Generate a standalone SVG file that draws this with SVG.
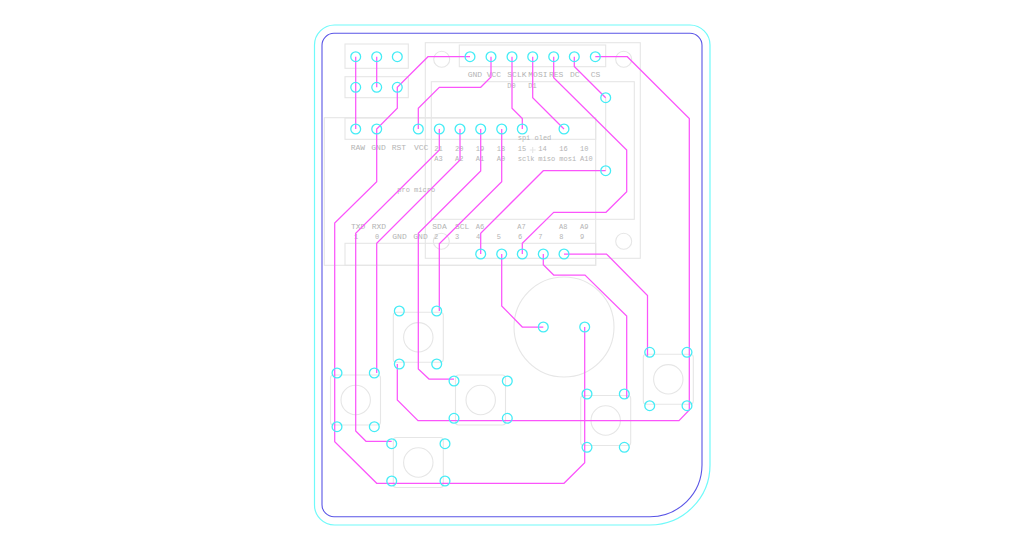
<svg xmlns="http://www.w3.org/2000/svg" width="1024" height="550" viewBox="0 0 1024 550">
<style>
.g{fill:none;stroke:#e6e6e6;stroke-width:1.1}
.t{fill:none;stroke:#fb55fb;stroke-width:1.25;stroke-linejoin:miter}
.p{fill:none;stroke:#45ecf6;stroke-width:1.3}
text{font-family:"Liberation Mono","DejaVu Sans Mono",monospace;font-size:8px;fill:#b4b4b4}
.s{font-size:7px}
</style>
<rect width="1024" height="550" fill="#fff"/>
<g id="outline">
<path d="M334.5 25H690A20 20 0 0 1 710 45V465A60 60 0 0 1 650 525H334.5A20 20 0 0 1 314.5 505V45A20 20 0 0 1 334.5 25Z" fill="none" stroke="#70fafa" stroke-width="1.2"/>
<path d="M334 33.3H690A12 12 0 0 1 702 45.3V465A52 52 0 0 1 650 516.7H334A12 12 0 0 1 322 504.7V45.3A12 12 0 0 1 334 33.3Z" fill="none" stroke="#5a55e6" stroke-width="1.1"/>
</g>
<g id="pro-micro">
<rect class="g" x="324.3" y="117.7" width="271.4" height="147.6"/>
<rect class="g" x="345" y="118" width="250.7" height="21.3"/>
<rect class="g" x="345" y="243.3" width="250.7" height="22"/>
<path class="g" d="M529.7 150H535.7M532.7 147V153"/>
</g>
<g id="oled">
<rect class="g" x="425.3" y="42.7" width="215" height="215.6"/>
<rect class="g" x="431.3" y="81.7" width="203" height="137.6"/>
<rect class="g" x="459.3" y="45" width="146.4" height="21.7"/>
<path class="g" d="M605.7 97.7V170.7"/>
<circle class="g" cx="441.7" cy="59.3" r="8"/>
<circle class="g" cx="623.7" cy="59.3" r="8"/>
<circle class="g" cx="623.7" cy="241.3" r="8"/>
<circle class="g" cx="441.3" cy="241.3" r="8"/>
</g>
<g id="headers">
<rect class="g" x="345" y="44" width="63.3" height="24.3"/>
<rect class="g" x="345" y="76.7" width="63.3" height="21"/>
</g>
<g id="speaker"><circle class="g" cx="564" cy="327" r="50"/></g>
<g id="btn-a"><rect class="g" x="393.3" y="312.3" width="50" height="50" rx="3"/><circle class="g" cx="418.3" cy="337.3" r="14.7"/></g>
<g id="btn-b"><rect class="g" x="330.5" y="375" width="50" height="50" rx="3"/><circle class="g" cx="355.7" cy="400" r="14.7"/></g>
<g id="btn-c"><rect class="g" x="455.5" y="375" width="50" height="50" rx="3"/><circle class="g" cx="480.7" cy="400" r="14.7"/></g>
<g id="btn-d"><rect class="g" x="393.3" y="437.5" width="50" height="50" rx="3"/><circle class="g" cx="418.3" cy="462.5" r="14.7"/></g>
<g id="btn-e"><rect class="g" x="580.7" y="395.5" width="50" height="50" rx="3"/><circle class="g" cx="605.7" cy="420.5" r="14.7"/></g>
<g id="btn-f"><rect class="g" x="643.3" y="354.3" width="50" height="50" rx="3"/><circle class="g" cx="668.3" cy="379.3" r="14.7"/></g>
<g id="labels">
<text x="350.7" y="150">RAW</text><text x="371.3" y="150">GND</text><text x="391.7" y="150">RST</text><text x="414" y="150">VCC</text>
<text class="s" x="434.3" y="150.5">21</text><text class="s" x="455" y="150.5">20</text><text class="s" x="475.7" y="150.5">19</text><text class="s" x="496.7" y="150.5">18</text><text class="s" x="517.7" y="150.5">15</text><text class="s" x="538.3" y="150.5">14</text><text class="s" x="559.3" y="150.5">16</text><text class="s" x="580" y="150.5">10</text>
<text class="s" x="434.3" y="161">A3</text><text class="s" x="455" y="161">A2</text><text class="s" x="475.7" y="161">A1</text><text class="s" x="496.7" y="161">A0</text><text class="s" x="517.7" y="161">sclk</text><text class="s" x="538.3" y="161">miso</text><text class="s" x="559.3" y="161">mosi</text><text class="s" x="580" y="161">A10</text>
<text class="s" x="517.7" y="139.5">spi oled</text>
<text class="s" x="397.3" y="191.7">pro micro</text>
<text x="351" y="229">TXD</text><text x="371.7" y="229">RXD</text><text x="432.3" y="229">SDA</text><text x="455" y="229">SCL</text><text class="s" x="475.7" y="228.5">A6</text><text class="s" x="517.3" y="228.5">A7</text><text class="s" x="559" y="228.5">A8</text><text class="s" x="580" y="228.5">A9</text>
<text class="s" x="354" y="239">1</text><text class="s" x="375" y="239">0</text><text x="392.3" y="239">GND</text><text x="413.3" y="239">GND</text><text class="s" x="434" y="239">2</text><text class="s" x="455" y="239">3</text><text class="s" x="476" y="239">4</text><text class="s" x="496.7" y="239">5</text><text class="s" x="518" y="239">6</text><text class="s" x="538.3" y="239">7</text><text class="s" x="559.3" y="239">8</text><text class="s" x="580" y="239">9</text>
<text x="467.7" y="77.3">GND</text><text x="486.7" y="77.3">VCC</text><text x="507.3" y="77.3">SCLK</text><text x="528.3" y="77.3">MOSI</text><text x="549" y="77.3">RES</text><text x="570" y="77.3">DC</text><text x="590.7" y="77.3">CS</text>
<text class="s" x="507.3" y="87.7">D0</text><text class="s" x="528.3" y="87.7">D1</text>
</g>
<g id="connectors">
<path class="t" d="M355.7 56.7V129"/>
<path class="t" d="M376.7 56.7V87.3"/>
<path class="t" d="M470 56.7H428L397.3 87.3V108.3L376.7 129V181.7L334.7 223V441.7L376.7 483.3H564L584.7 462.7V327"/>
<path class="t" d="M491 56.7V77L480.7 87.3H439.3L418.3 108.3V129"/>
<path class="t" d="M512 56.7V108.3L522.3 118.5V129"/>
<path class="t" d="M532.7 56.7V97.7L564 129"/>
<path class="t" d="M553.7 56.7V77.7L626.7 150V191.7L606 212.3H553.7L522.3 243.3V254"/>
<path class="t" d="M574.3 56.7V66.5L605.7 97.7"/>
<path class="t" d="M595.3 56.7H627.3L689.3 118.5V410L679 420.7H418L397.3 400V364"/>
<path class="t" d="M439.3 129V150L355.7 233.3V431L366 441.3H391.7"/>
<path class="t" d="M460 129V160L376.7 243.3V373"/>
<path class="t" d="M480.7 129V171L418.3 233.3V369L429 379H454"/>
<path class="t" d="M501.7 129V181.7L439.3 243.7V311"/>
<path class="t" d="M480.7 254V233.3L543.3 170.7H605.7"/>
<path class="t" d="M501.7 254V306L522.3 327H543.3"/>
<path class="t" d="M543.3 254V264.7L553.7 275H585L626.7 316V399"/>
<path class="t" d="M564 254H606.5L647.5 295.5V357"/>
</g>
<g id="pads">
<g class="p">
<circle cx="355.7" cy="56.7" r="4.9"/><circle cx="376.7" cy="56.7" r="4.9"/><circle cx="397.3" cy="56.7" r="4.9"/>
<circle cx="355.7" cy="87.3" r="4.9"/><circle cx="376.7" cy="87.3" r="4.9"/><circle cx="397.3" cy="87.3" r="4.9"/>
<circle cx="355.7" cy="129" r="4.9"/><circle cx="376.7" cy="129" r="4.9"/><circle cx="418.3" cy="129" r="4.9"/><circle cx="439.3" cy="129" r="4.9"/><circle cx="460" cy="129" r="4.9"/><circle cx="480.7" cy="129" r="4.9"/><circle cx="501.7" cy="129" r="4.9"/><circle cx="522.3" cy="129" r="4.9"/><circle cx="564" cy="129" r="4.9"/>
<circle cx="470" cy="56.7" r="4.9"/><circle cx="491" cy="56.7" r="4.9"/><circle cx="512" cy="56.7" r="4.9"/><circle cx="532.7" cy="56.7" r="4.9"/><circle cx="553.7" cy="56.7" r="4.9"/><circle cx="574.3" cy="56.7" r="4.9"/><circle cx="595.3" cy="56.7" r="4.9"/>
<circle cx="605.7" cy="97.7" r="4.9"/><circle cx="605.7" cy="170.7" r="4.9"/>
<circle cx="480.7" cy="254" r="4.9"/><circle cx="501.7" cy="254" r="4.9"/><circle cx="522.3" cy="254" r="4.9"/><circle cx="543.3" cy="254" r="4.9"/><circle cx="564" cy="254" r="4.9"/>
<circle cx="543.3" cy="327" r="4.9"/><circle cx="584.7" cy="327" r="4.9"/>
<circle cx="399.3" cy="311" r="4.9"/><circle cx="436.7" cy="311" r="4.9"/><circle cx="399.3" cy="364" r="4.9"/><circle cx="436.7" cy="364" r="4.9"/>
<circle cx="337" cy="373" r="4.9"/><circle cx="374.3" cy="373" r="4.9"/><circle cx="337" cy="426.7" r="4.9"/><circle cx="374.3" cy="426.7" r="4.9"/>
<circle cx="454" cy="381" r="4.9"/><circle cx="507.3" cy="381" r="4.9"/><circle cx="454" cy="418.3" r="4.9"/><circle cx="507.3" cy="418.3" r="4.9"/>
<circle cx="391.7" cy="443.7" r="4.9"/><circle cx="445" cy="443.7" r="4.9"/><circle cx="391.7" cy="481" r="4.9"/><circle cx="445" cy="481" r="4.9"/>
<circle cx="587" cy="394" r="4.9"/><circle cx="624.3" cy="394" r="4.9"/><circle cx="587" cy="447.3" r="4.9"/><circle cx="624.3" cy="447.3" r="4.9"/>
<circle cx="649.7" cy="352.3" r="4.9"/><circle cx="687" cy="352.3" r="4.9"/><circle cx="649.7" cy="405.7" r="4.9"/><circle cx="687" cy="405.7" r="4.9"/>
</g>
</g>
</svg>
